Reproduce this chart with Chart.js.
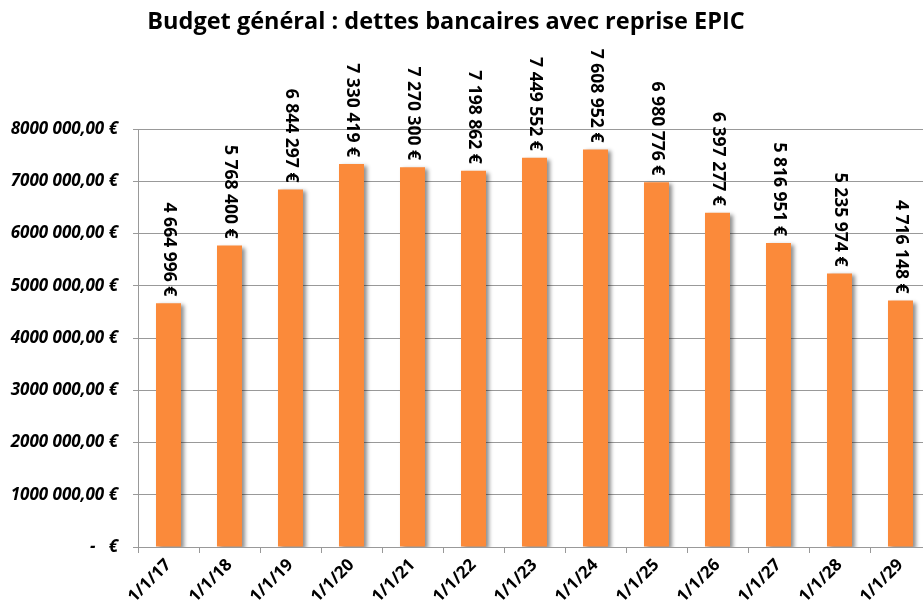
<!DOCTYPE html>
<html>
<head>
<meta charset="utf-8">
<script src="https://cdn.jsdelivr.net/npm/chart.js@4"></script>
<style>
  body { margin: 0; overflow: hidden; background: #fff; }
  #wrap { width: 935px; height: 609px; }
</style>
</head>
<body>
<div id="wrap"><canvas id="myChart" width="935" height="609"></canvas></div>
<script>
// data
const categories = ['1/1/17', '1/1/18', '1/1/19', '1/1/20', '1/1/21', '1/1/22', '1/1/23',
  '1/1/24', '1/1/25', '1/1/26', '1/1/27', '1/1/28', '1/1/29'];
const debtValues = [4664996, 5768400, 6844297, 7330419, 7270300, 7198862, 7449552,
  7608952, 6980776, 6397277, 5816951, 5235974, 4716148];
const yTickLabels = ['-   €', '1000 000,00 €', '2000 000,00 €', '3000 000,00 €', '4000 000,00 €',
  '5000 000,00 €', '6000 000,00 €', '7000 000,00 €', '8000 000,00 €'];
const chartTitle = 'Budget général : dettes bancaires avec reprise EPIC';

const FONT = '"Open Sans", Lato, "Liberation Sans", sans-serif';

function fmtEuro(v) {
  return String(v).replace(/\B(?=(\d{3})+(?!\d))/g, ' ') + ' €';
}

// bar shadow
const shadowPlugin = {
  id: 'barShadow',
  beforeDatasetsDraw(chart) {
    const c = chart.ctx;
    c.save();
    c.shadowColor = 'rgba(0,0,0,0.45)';
    c.shadowBlur = 4;
    c.shadowOffsetX = 3;
    c.shadowOffsetY = 2;
  },
  afterDatasetsDraw(chart) {
    chart.ctx.restore();
  }
};

// vertical value labels + title
const labelPlugin = {
  id: 'valueLabels',
  afterDraw(chart) {
    const c = chart.ctx;
    const meta = chart.getDatasetMeta(0);
    c.save();
    c.fillStyle = '#000';
    c.font = 'bold 17.5px ' + FONT;
    meta.data.forEach((bar, i) => {
      c.save();
      c.translate(bar.x, bar.y - 7);
      c.rotate(Math.PI / 2);
      c.textAlign = 'right';
      c.textBaseline = 'middle';
      c.fillText(fmtEuro(debtValues[i]), 0, 0);
      c.restore();
    });
    c.font = 'bold 23.5px ' + FONT;
    c.textAlign = 'center';
    c.textBaseline = 'middle';
    c.fillText(chartTitle, 446, 22);
    c.restore();
  }
};

const ctx = document.getElementById('myChart');

new Chart(ctx, {
  type: 'bar',
  data: {
    labels: categories,
    datasets: [{
      data: debtValues,
      backgroundColor: '#FB8A3A',
      borderWidth: 0,
      categoryPercentage: 1,
      barPercentage: 0.41
    }]
  },
  options: {
    responsive: false,
    animation: false,
    layout: { padding: { top: 129, right: 4, left: 0, bottom: 0 } },
    plugins: {
      legend: { display: false },
      tooltip: { enabled: false },
      title: { display: false }
    },
    scales: {
      x: {
        grid: { display: true, drawOnChartArea: false, color: '#999', tickLength: 6, offset: true },
        border: { color: '#999' },
        ticks: {
          color: '#000',
          font: { family: FONT, size: 17, weight: 'bold' },
          maxRotation: 45, minRotation: 45,
          autoSkip: false,
          padding: 2
        },
        afterFit(scale) { scale.height = 62; }
      },
      y: {
        min: 0,
        max: 8000000,
        grid: { color: '#999', tickLength: 5 },
        border: { color: '#999' },
        ticks: {
          stepSize: 1000000,
          color: '#000',
          padding: 15,
          font: { family: FONT, size: 17, weight: 'bold', style: 'italic' },
          callback: (v, i) => yTickLabels[i]
        },
        afterFit(scale) { scale.width = 138; }
      }
    }
  },
  plugins: [shadowPlugin, labelPlugin]
});
</script>
</body>
</html>
